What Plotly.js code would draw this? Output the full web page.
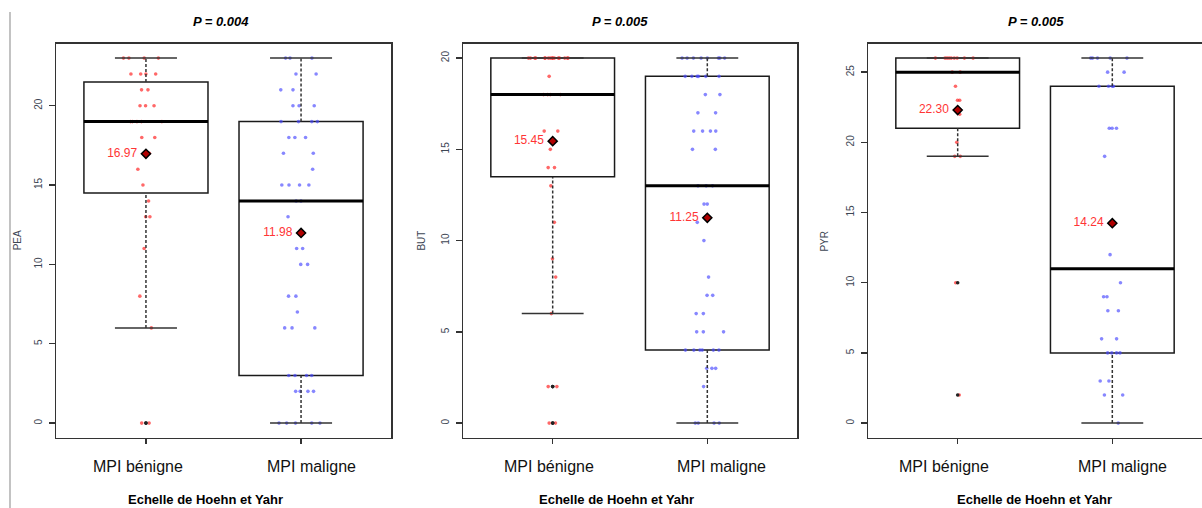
<!DOCTYPE html>
<html><head><meta charset="utf-8">
<script src="https://cdn.plot.ly/plotly-3.0.1.min.js"></script>
<style>html,body{margin:0;padding:0;background:#fff}#chart{width:1202px;height:508px}</style>
</head><body><div id="chart"></div>
<script>
// ---------- data ----------
const categories = ['MPI bénigne', 'MPI maligne'];
const variables = ['PEA', 'BUT', 'PYR'];
const pLabels = ['P = 0.004', 'P = 0.005', 'P = 0.005'];
const xTitle = 'Echelle de Hoehn et Yahr';

const peaBenigne = [0,0,6,8,11,13,13,14,15,16,17,18,18,19,19,19,19,19,20,20,20,21,21,22,22,22,22,23,23,23,23];
const peaMaligne = [0,0,0,0,0,2,2,2,2,3,3,3,3,6,6,6,7,8,8,10,10,11,11,13,14,14,15,15,15,15,16,17,17,18,18,18,19,19,19,19,20,20,20,21,21,22,22,23,23,23];
const butBenigne = [0,0,2,2,6,8,9,11,13,14,14,15,16,16,18,18,18,18,19,20,20,20,20,20,20,20,20,20,20,20,20,20,20,20,20];
const butMaligne = [0,0,0,0,2,3,3,3,4,4,4,4,4,4,5,5,5,6,6,7,7,8,10,11,12,12,13,13,13,15,15,16,16,16,16,17,17,18,18,19,19,19,19,19,19,20,20,20,20,20,20,20,20];
const pyrBenigne = [2,10,19,19,20,22,23,23,24,25,25,26,26,26,26,26,26,26,26,26];
const pyrMaligne = [0,2,2,3,3,5,5,5,5,6,6,8,8,9,9,10,12,19,21,21,21,24,24,24,24,25,25,26,26,26,26,26];

const meansPEA = [16.97, 11.98];
const meansBUT = [15.45, 11.25];
const meansPYR = [22.30, 14.24];

const panels = [
  {groups: [peaBenigne, peaMaligne], means: meansPEA},
  {groups: [butBenigne, butMaligne], means: meansBUT},
  {groups: [pyrBenigne, pyrMaligne], means: meansPYR}
];

// ---------- helpers ----------
function fivenum(a){
  const x=[...a].sort((p,q)=>p-q), n=x.length;
  const n4=Math.floor((n+3)/2)/2;
  return [1,n4,(n+1)/2,n+1-n4,n].map(d=>0.5*(x[Math.floor(d)-1]+x[Math.ceil(d)-1]));
}
function boxStats(a){
  const f=fivenum(a), iqr=f[3]-f[1];
  const loF=f[1]-1.5*iqr, hiF=f[3]+1.5*iqr;
  const inside=a.filter(v=>v>=loF && v<=hiF);
  return {q1:f[1], med:f[2], q3:f[3], lo:Math.min(...inside), hi:Math.max(...inside),
          out:a.filter(v=>v<loF || v>hiF)};
}

const FONT='Liberation Sans, Arial, sans-serif';
const W=1202, H=508;
const frames=[[56,391],[463,797],[868,1202]];
const pointColors=['rgba(255,40,40,0.7)','rgba(70,70,255,0.65)'];
const tickShift=[[-7.5,10],[-4,14],[-14,10]];
const titleX=[221,620,1035.5];
const axTitleX=[206,616,1034.5];
const yTitleX=[17.7,422,825];

const traces=[]; const layout={
  width:W, height:H, margin:{l:0,r:0,t:0,b:0}, showlegend:false,
  paper_bgcolor:'#fff', plot_bgcolor:'#fff', boxmode:'overlay',
  annotations:[], shapes:[
    {type:'line', xref:'paper', yref:'paper', x0:10/W, x1:10/W, y0:0, y1:1-12/H,
     line:{color:'#9a9a9a', width:1.2}}
  ]
};

panels.forEach((p,k)=>{
  const s=k===0?'':String(k+1);
  const xa='x'+s, ya='y'+s;
  const all=p.groups.flat();
  const mn=Math.min(...all), mx=Math.max(...all), ext=(mx-mn)*0.04;
  layout['xaxis'+s]={domain:[frames[k][0]/W, Math.min(1,frames[k][1]/W)], range:[-0.58,1.58],
    anchor:ya, tickvals:[0,1], ticktext:['',''], showticklabels:false, ticks:'outside', ticklen:5,
    tickwidth:1.3, tickcolor:'#333', showline:true, mirror:true, linecolor:'#333', linewidth:1.5,
    showgrid:false, zeroline:false, fixedrange:true};
  layout['yaxis'+s]={domain:[1-437.7/H, 1-43.5/H], range:[mn-ext, mx+ext], anchor:xa,
    tick0:0, dtick:5, ticks:'outside', ticklen:6, tickwidth:1.3, tickcolor:'#333', tickangle:-90,
    tickfont:{family:FONT, size:10, color:'#3d4654'},
    ticklabelstandoff:3,
    showline:true, mirror:true, linecolor:'#333', linewidth:1.5, showgrid:false, zeroline:false, fixedrange:true};

  p.groups.forEach((g,i)=>{
    const st=boxStats(g);
    // box body
    traces.push({type:'box', xaxis:xa, yaxis:ya, x:[i], q1:[st.q1], median:[st.med], q3:[st.q3],
      lowerfence:[st.q1], upperfence:[st.q3], width:0.8, whiskerwidth:0,
      line:{color:'#1a1a1a', width:1.5}, fillcolor:'rgba(255,255,255,0)', hoverinfo:'skip'});
    // jittered points
    traces.push({type:'box', xaxis:xa, yaxis:ya, y:g, x0:i, width:0.8, boxpoints:'all', jitter:0.42,
      pointpos:0, line:{width:0, color:'rgba(0,0,0,0)'}, fillcolor:'rgba(0,0,0,0)',
      marker:{size:3.6, color:pointColors[i]}, hoverinfo:'y'});
    // dashed whiskers
    traces.push({type:'scatter', mode:'lines', xaxis:xa, yaxis:ya,
      x:[i,i,null,i,i], y:[st.lo,st.q1,null,st.q3,st.hi],
      line:{color:'#333', width:1.5, dash:'3px,2px'}, hoverinfo:'skip'});
    // caps
    traces.push({type:'scatter', mode:'lines', xaxis:xa, yaxis:ya,
      x:[i-0.2,i+0.2,null,i-0.2,i+0.2], y:[st.lo,st.lo,null,st.hi,st.hi],
      line:{color:'#333', width:1.5}, hoverinfo:'skip'});
    // median
    traces.push({type:'scatter', mode:'lines', xaxis:xa, yaxis:ya,
      x:[i-0.4,i+0.4], y:[st.med,st.med], line:{color:'#000', width:3}, hoverinfo:'skip'});
    // outliers
    if(st.out.length) traces.push({type:'scatter', mode:'markers', xaxis:xa, yaxis:ya,
      x:st.out.map(()=>i), y:st.out, marker:{size:3.6, color:'#222'}, hoverinfo:'y'});
    // mean
    traces.push({type:'scatter', mode:'markers+text', xaxis:xa, yaxis:ya,
      x:[i], y:[p.means[i]], text:[p.means[i].toFixed(2)+'\u00a0'], textposition:'middle left',
      textfont:{family:FONT, size:12, color:'#ff3535'},
      marker:{symbol:'diamond', size:7, color:'#b00000', line:{color:'#000', width:1.5}}, hoverinfo:'y'});

    // category label
    layout.annotations.push({xref:xa, yref:'paper', x:i, y:1-466/H, yanchor:'middle', xanchor:'center',
      xshift:tickShift[k][i], text:categories[i], showarrow:false,
      font:{family:FONT, size:16, color:'#111'}});
  });

  layout.annotations.push({xref:'paper', yref:'paper', x:titleX[k]/W, y:1-21/H, xanchor:'center', yanchor:'middle',
    text:pLabels[k], showarrow:false, font:{family:FONT, size:13, color:'#000', weight:'bold', style:'italic'}});
  layout.annotations.push({xref:'paper', yref:'paper', x:axTitleX[k]/W, y:1-499/H, xanchor:'center', yanchor:'middle',
    text:xTitle, showarrow:false, font:{family:FONT, size:13, color:'#000', weight:'bold'}});
  layout.annotations.push({xref:'paper', yref:'paper', x:yTitleX[k]/W, y:1-240.6/H, xanchor:'center', yanchor:'middle',
    textangle:-90, text:variables[k], showarrow:false, font:{family:FONT, size:10, color:'#3d4654'}});
});

Plotly.newPlot('chart', traces, layout, {displayModeBar:false, staticPlot:true});
</script></body></html>
